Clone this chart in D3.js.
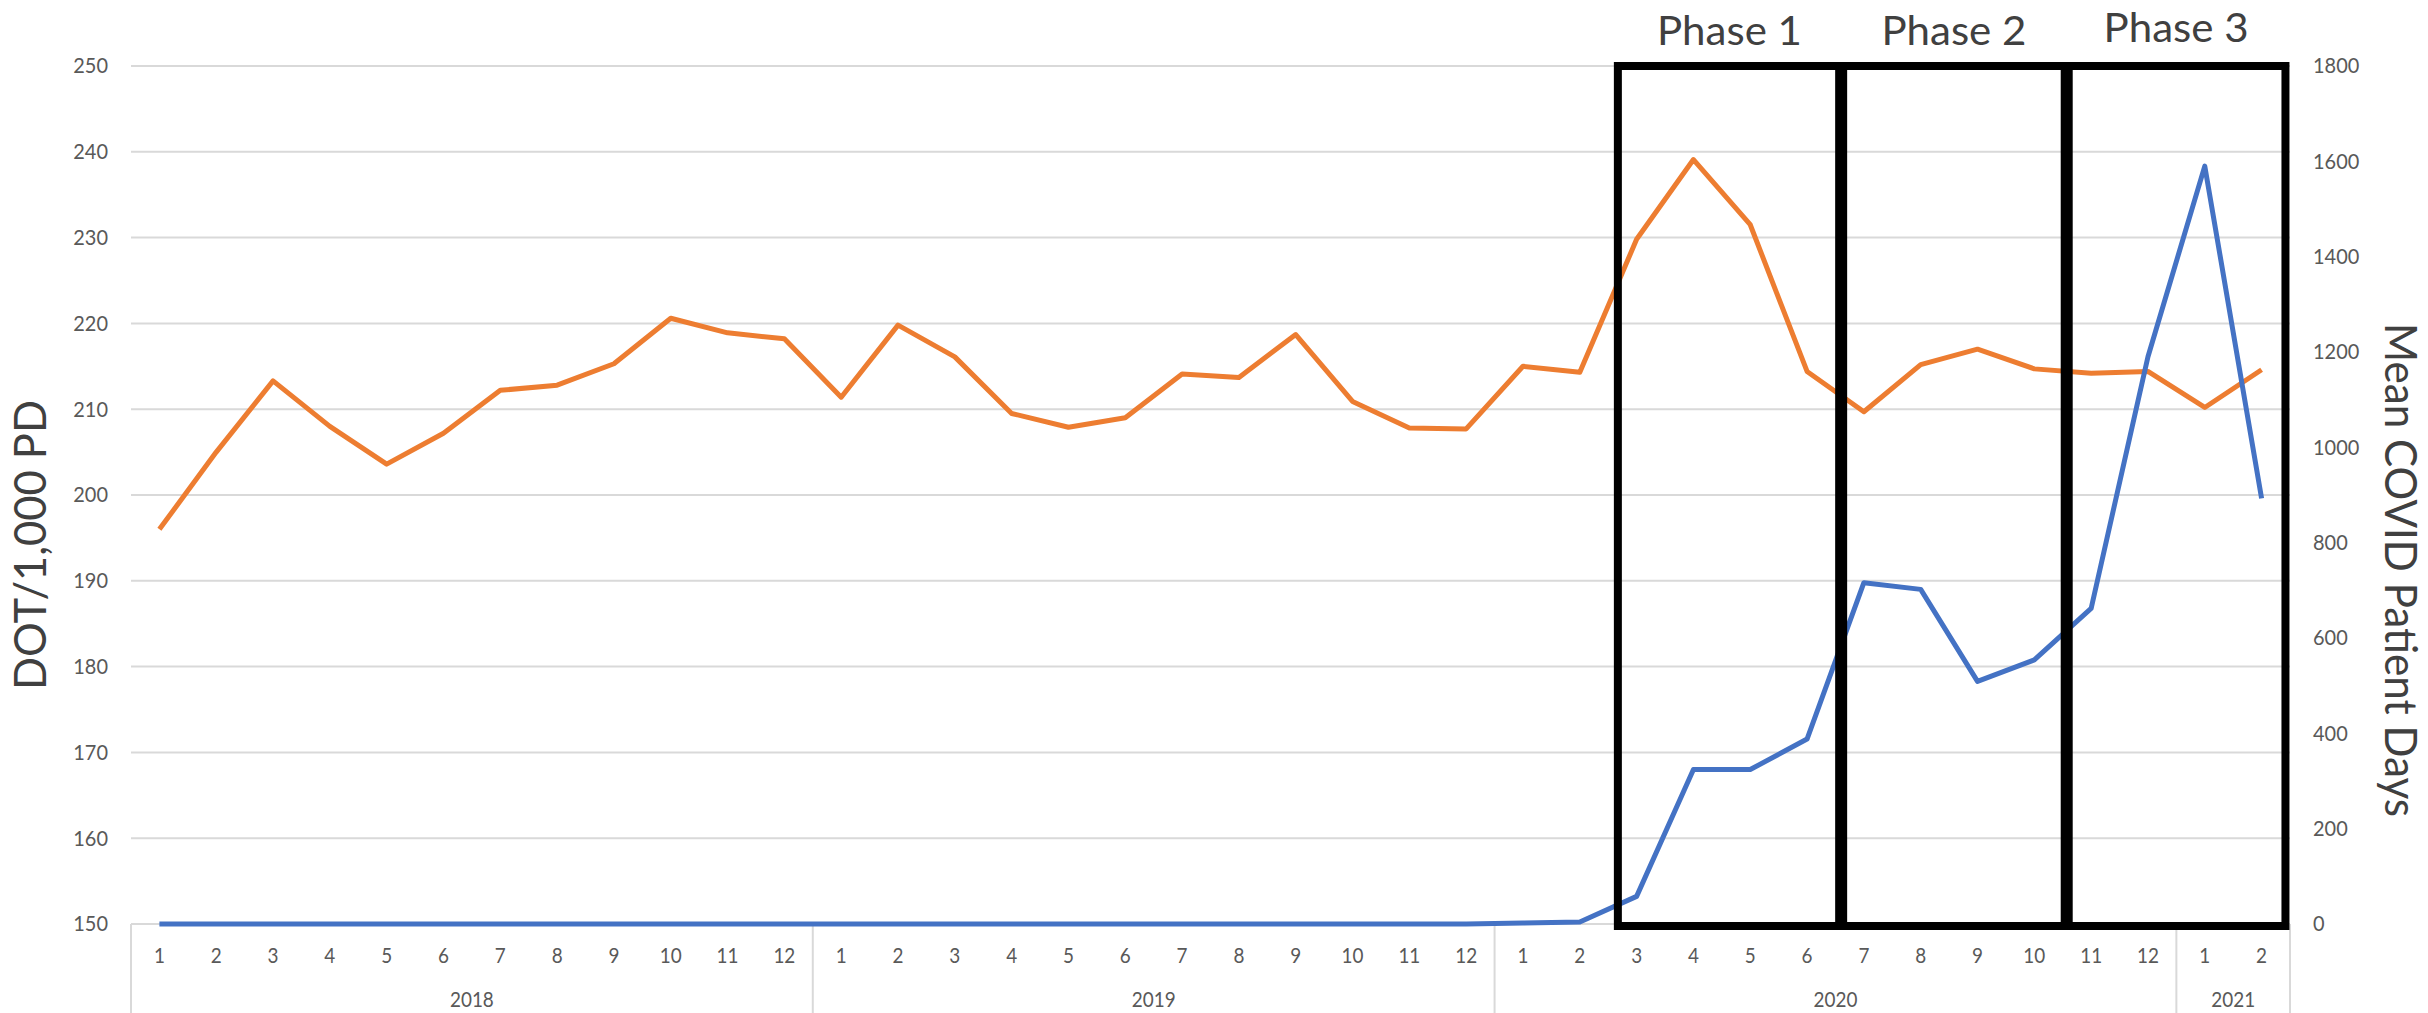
<!DOCTYPE html>
<html>
<head>
<meta charset="utf-8">
<script src="https://cdn.jsdelivr.net/npm/d3@7/dist/d3.min.js"></script>
<style>
    body { margin: 0; background: #fff; }
    text { font-family: Lato, Carlito, "Open Sans", sans-serif; }
</style>
</head>
<body>
<div id="chartDiv"></div>
<script>

var yearGroups = ["2018", "2019", "2020", "2021"];
var monthsInGroup = [12, 12, 12, 2];

var categories = [];
yearGroups.forEach(function (y, gi) {
    for (var m = 1; m <= monthsInGroup[gi]; m++) {
        categories.push(y + "-" + m);
    }
});

// DOT per 1,000 patient days (left axis)
var dotValues = [
    196.0, 205.0, 213.3, 208.0, 203.6, 207.2, 212.2, 212.8, 215.3, 220.6, 218.9, 218.2,
    211.4, 219.8, 216.1, 209.5, 207.9, 209.0, 214.1, 213.7, 218.7, 210.9, 207.8, 207.7,
    215.0, 214.3, 229.8, 239.1, 231.5, 214.4, 209.7, 215.2, 217.0, 214.7, 214.2, 214.4,
    210.2, 214.6
];

// mean COVID patient days (right axis)
var covidValues = [
    0, 0, 0, 0, 0, 0, 0, 0, 0, 0, 0, 0,
    0, 0, 0, 0, 0, 0, 0, 0, 0, 0, 0, 0,
    2, 4, 58, 324, 324, 388, 716, 702, 509, 554, 662, 1190,
    1590, 893
];

var leftTicks = [150, 160, 170, 180, 190, 200, 210, 220, 230, 240, 250];
var rightTicks = [0, 200, 400, 600, 800, 1000, 1200, 1400, 1600, 1800];

var phaseNames = ["Phase 1", "Phase 2", "Phase 3"];
// box edges: [category, fraction of band]
var phaseEdges = [["2020-3", 0.17], ["2020-7", 0.1], ["2020-11", 0.07], ["2021-2", 0.92]];

var W = 2428, H = 1013;
var margin = { top: 66, right: 138, bottom: 89, left: 131 };
var width = W - margin.left - margin.right,
    height = H - margin.top - margin.bottom;

// Lato is a bit wider than the original font, so narrow the glyphs a little
function squeeze(sel, k) {
    sel.each(function () {
        var len = this.getComputedTextLength();
        d3.select(this)
            .attr("textLength", len * k)
            .attr("lengthAdjust", "spacingAndGlyphs");
    });
}

var svg = d3.select("#chartDiv").append("svg")
    .attr("width", W)
    .attr("height", H);

var g = svg.append("g")
    .attr("transform", "translate(" + margin.left + "," + margin.top + ")");

var x = d3.scaleBand()
    .domain(categories)
    .range([0, width])
    .padding(0);

var yL = d3.scaleLinear().domain([150, 250]).range([height, 0]);
var yR = d3.scaleLinear().domain([0, 1800]).range([height, 0]);

// gridlines
g.selectAll(".grid")
    .data(leftTicks)
    .enter().append("line")
    .attr("class", "grid")
    .attr("x1", 0)
    .attr("x2", width)
    .attr("y1", function (d) { return yL(d); })
    .attr("y2", function (d) { return yL(d); })
    .attr("stroke", "#d9d9d9")
    .attr("stroke-width", 2);

// left tick labels
var lt = g.selectAll(".ltick")
    .data(leftTicks)
    .enter().append("text")
    .attr("x", -23)
    .attr("y", function (d) { return yL(d); })
    .attr("dy", "0.35em")
    .attr("text-anchor", "end")
    .style("font-size", "21px")
    .style("fill", "#595959")
    .text(function (d) { return d; });
squeeze(lt, 0.95);

// right tick labels
var rt = g.selectAll(".rtick")
    .data(rightTicks)
    .enter().append("text")
    .attr("x", width + 23)
    .attr("y", function (d) { return yR(d); })
    .attr("dy", "0.35em")
    .attr("text-anchor", "start")
    .style("font-size", "21px")
    .style("fill", "#595959")
    .text(function (d) { return d; });
squeeze(rt, 0.95);

// category axis: month labels, year groups and separators
var axisG = g.append("g")
    .attr("class", "x axis")
    .attr("transform", "translate(0," + height + ")");

var months = axisG.selectAll(".month")
    .data(categories)
    .enter().append("text")
    .attr("class", "month")
    .attr("x", function (d) { return x(d) + x.bandwidth() / 2; })
    .attr("y", 39)
    .attr("text-anchor", "middle")
    .style("font-size", "21px")
    .style("fill", "#595959")
    .text(function (d) { return d.split("-")[1]; });
squeeze(months, 0.9);

var groupStarts = [];
var acc = 0;
monthsInGroup.forEach(function (n) { groupStarts.push(acc); acc += n; });

axisG.selectAll(".sep")
    .data(groupStarts.concat([categories.length]))
    .enter().append("line")
    .attr("class", "sep")
    .attr("x1", function (d) { return d * x.step(); })
    .attr("x2", function (d) { return d * x.step(); })
    .attr("y1", 0)
    .attr("y2", margin.bottom)
    .attr("stroke", "#d9d9d9")
    .attr("stroke-width", 2);

var years = axisG.selectAll(".year")
    .data(yearGroups)
    .enter().append("text")
    .attr("class", "year")
    .attr("x", function (d, i) { return (groupStarts[i] + monthsInGroup[i] / 2) * x.step(); })
    .attr("y", 83)
    .attr("text-anchor", "middle")
    .style("font-size", "21px")
    .style("fill", "#595959")
    .text(function (d) { return d; });
squeeze(years, 0.9);

// series
var lineL = d3.line()
    .x(function (d, i) { return x(categories[i]) + x.bandwidth() / 2; })
    .y(function (d) { return yL(d); });

var lineR = d3.line()
    .x(function (d, i) { return x(categories[i]) + x.bandwidth() / 2; })
    .y(function (d) { return yR(d); });

g.append("path")
    .datum(dotValues)
    .attr("fill", "none")
    .attr("stroke", "#ED7D31")
    .attr("stroke-width", 5)
    .attr("stroke-linejoin", "round")
    .attr("d", lineL);

g.append("path")
    .datum(covidValues)
    .attr("fill", "none")
    .attr("stroke", "#4472C4")
    .attr("stroke-width", 5)
    .attr("stroke-linejoin", "round")
    .attr("d", lineR);

// phase boxes
function edgeX(e) {
    return x(e[0]) + e[1] * x.bandwidth();
}

var boxes = phaseNames.map(function (name, i) {
    return { name: name, x0: edgeX(phaseEdges[i]), x1: edgeX(phaseEdges[i + 1]) };
});

g.selectAll(".phase")
    .data(boxes)
    .enter().append("rect")
    .attr("class", "phase")
    .attr("x", function (d) { return d.x0; })
    .attr("width", function (d) { return d.x1 - d.x0; })
    .attr("y", yL(250))
    .attr("height", yL(150) - yL(250) + 2)
    .attr("fill", "none")
    .attr("stroke", "#000")
    .attr("stroke-width", 8);

g.selectAll(".divider")
    .data(boxes.slice(1))
    .enter().append("line")
    .attr("x1", function (d) { return d.x0; })
    .attr("x2", function (d) { return d.x0; })
    .attr("y1", yL(250))
    .attr("y2", yL(150) + 2)
    .attr("stroke", "#000")
    .attr("stroke-width", 12);

g.selectAll(".phaseLabel")
    .data(boxes)
    .enter().append("text")
    .attr("class", "phaseLabel")
    .attr("x", function (d) { return (d.x0 + d.x1) / 2; })
    .attr("y", function (d, i) { return i == 2 ? -24 : -21; })
    .attr("text-anchor", "middle")
    .attr("textLength", 145)
    .attr("lengthAdjust", "spacingAndGlyphs")
    .style("font-size", "40px")
    .style("fill", "#404040")
    .text(function (d) { return d.name; });

// axis titles
svg.append("text")
    .attr("transform", "translate(46,545) rotate(-90)")
    .attr("text-anchor", "middle")
    .attr("textLength", 290)
    .attr("lengthAdjust", "spacingAndGlyphs")
    .style("font-size", "45px")
    .style("fill", "#404040")
    .text("DOT/1,000 PD");

svg.append("text")
    .attr("transform", "translate(2385,570) rotate(90)")
    .attr("text-anchor", "middle")
    .attr("textLength", 494)
    .attr("lengthAdjust", "spacingAndGlyphs")
    .style("font-size", "44px")
    .style("fill", "#404040")
    .text("Mean COVID Patient Days");

</script>
</body>
</html>
